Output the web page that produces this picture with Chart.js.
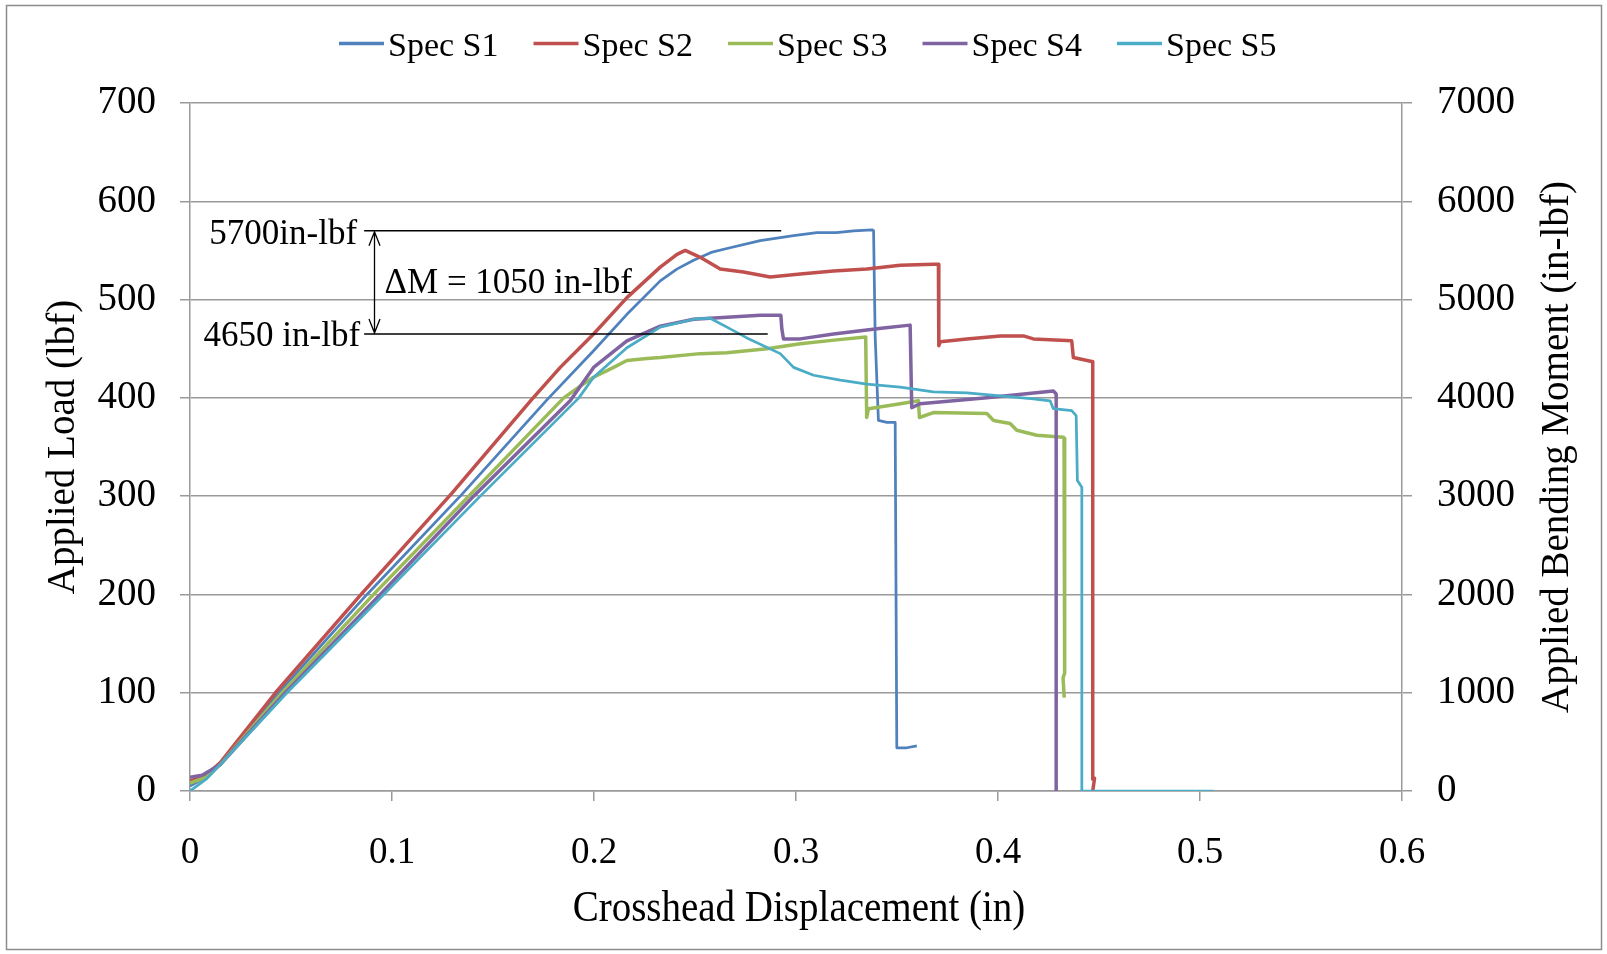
<!DOCTYPE html>
<html>
<head>
<meta charset="utf-8">
<script src="https://cdn.jsdelivr.net/npm/chart.js@4/dist/chart.umd.min.js"></script>
<style>
html,body{margin:0;padding:0;background:#fff;}
#wrap{position:relative;width:1607px;height:954px;}
</style>
</head>
<body>
<div id="wrap"><canvas id="c" width="1607" height="954"></canvas></div>
<script>
// ---------- data ----------
const seriesNames  = ['Spec S1', 'Spec S2', 'Spec S3', 'Spec S4', 'Spec S5'];
const seriesColors = ['#4F81BD', '#C0504D', '#9BBB59', '#8064A2', '#4BACC6'];

const s1Disp = [0, 0.008, 0.015, 0.0439, 0.0876, 0.1347, 0.1767, 0.1998, 0.2163, 0.2328, 0.2410, 0.2493, 0.2580, 0.2658, 0.2823, 0.2988, 0.3103, 0.3200, 0.3285, 0.3376, 0.3384, 0.3392, 0.3408, 0.3450, 0.3491, 0.3499, 0.3549, 0.3598];
const s1Load = [5, 14, 28, 100, 200, 302, 398, 448, 485, 519, 531, 540, 548, 552, 560, 565, 568, 568, 570, 571, 570, 462, 377, 375, 375, 44, 44, 46];

const s2Disp = [0, 0.008, 0.015, 0.0423, 0.0847, 0.1297, 0.1690, 0.1833, 0.1998, 0.2163, 0.2328, 0.2411, 0.2452, 0.2526, 0.2625, 0.2740, 0.2872, 0.3021, 0.3186, 0.3351, 0.3516, 0.3680, 0.3705, 0.3707, 0.3714, 0.3846, 0.4011, 0.4126, 0.4175, 0.4365, 0.4373, 0.4464, 0.4469, 0.4469, 0.4478, 0.4469];
const s2Load = [10, 16, 29, 100, 200, 303, 398, 431, 465, 502, 533, 546, 550, 543, 531, 528, 523, 526, 529, 531, 535, 536, 536, 453, 457, 460, 463, 463, 460, 458, 441, 437, 437, 12, 13, 0];

const s3Disp = [0, 0.008, 0.015, 0.0456, 0.0909, 0.1380, 0.1850, 0.1932, 0.1998, 0.2097, 0.2163, 0.2262, 0.2328, 0.2526, 0.2658, 0.2856, 0.3021, 0.3200, 0.3345, 0.3350, 0.3359, 0.3516, 0.3606, 0.3611, 0.3680, 0.3945, 0.3978, 0.4060, 0.4093, 0.4192, 0.4324, 0.4327, 0.4330, 0.4322, 0.4328];
const s3Load = [8, 14, 27, 100, 200, 300, 400, 412, 421, 431, 438, 440, 441, 445, 446, 450, 455, 459, 462, 380, 389, 394, 397, 380, 385, 384, 377, 374, 367, 362, 360, 359, 120, 115, 95];

const s4Disp = [0, 0.006, 0.015, 0.0472, 0.0942, 0.1404, 0.1882, 0.1998, 0.2163, 0.2328, 0.2493, 0.2658, 0.2823, 0.2925, 0.2930, 0.2938, 0.3021, 0.3186, 0.3433, 0.3565, 0.3573, 0.3614, 0.3945, 0.4274, 0.4288, 0.4288];
const s4Load = [14, 16, 27, 100, 200, 300, 397, 431, 458, 473, 480, 482, 484, 484, 470, 460, 460, 465, 471, 474, 390, 394, 400, 407, 404, 0];

const s5Disp = [0, 0.008, 0.015, 0.0480, 0.0959, 0.1437, 0.1925, 0.1998, 0.2163, 0.2328, 0.2493, 0.2575, 0.2658, 0.2757, 0.2922, 0.2988, 0.3087, 0.3219, 0.3351, 0.3516, 0.3680, 0.3846, 0.4011, 0.4175, 0.4258, 0.4274, 0.4365, 0.4387, 0.4393, 0.4415, 0.4415, 0.5066];
const s5Load = [0, 12, 27, 100, 200, 300, 400, 421, 451, 472, 480, 481, 472, 461, 445, 431, 423, 418, 414, 411, 406, 405, 402, 399, 397, 389, 387, 382, 316, 309, 0, 0];

const xTickLabels  = ['0', '0.1', '0.2', '0.3', '0.4', '0.5', '0.6'];
const yTickLabels  = ['0', '100', '200', '300', '400', '500', '600', '700'];
const y2TickLabels = ['0', '1000', '2000', '3000', '4000', '5000', '6000', '7000'];

// annotation (bending moment, in-lbf)
const annotMomentHigh = 5700;
const annotMomentLow  = 4650;
const annotLineStart  = 0.0862;
const annotHighEnd    = 0.2927;
const annotLowEnd     = 0.2860;
const annotArrowX     = 0.0912;
const annotHighText   = '5700in-lbf';
const annotLowText    = '4650 in-lbf';
const annotDeltaText  = '\u0394M = 1050 in-lbf';

// ---------- build ----------
const FONT = "'Liberation Serif', 'Times New Roman', serif";
Chart.defaults.font.family = FONT;
Chart.defaults.color = '#000';

const allDisp = [s1Disp, s2Disp, s3Disp, s4Disp, s5Disp];
const allLoad = [s1Load, s2Load, s3Load, s4Load, s5Load];
const lineWidths = [2.75, 3.5, 3.5, 3.5, 2.75];

const datasets = seriesNames.map((name, i) => ({
  label: name,
  data: allDisp[i].map((x, k) => ({ x: x, y: allLoad[i][k] })),
  borderColor: seriesColors[i],
  backgroundColor: seriesColors[i],
  borderWidth: lineWidths[i],
  borderJoinStyle: 'round',
  pointRadius: 0,
  tension: 0,
  fill: false,
  yAxisID: 'y',
  order: 6 - i
}));
datasets.push({
  label: '_hi', data: [{ x: annotLineStart, y: annotMomentHigh }, { x: annotHighEnd, y: annotMomentHigh }],
  borderColor: '#000', borderWidth: 1.5, pointRadius: 0, yAxisID: 'y2', order: 0
});
datasets.push({
  label: '_lo', data: [{ x: annotLineStart, y: annotMomentLow }, { x: annotLowEnd, y: annotMomentLow }],
  borderColor: '#000', borderWidth: 1.5, pointRadius: 0, yAxisID: 'y2', order: 0
});

const GRID = '#9a9a9a';

const framePlugin = {
  id: 'frame',
  beforeDraw(chart) {
    const ctx = chart.ctx;
    ctx.save();
    ctx.fillStyle = '#fff';
    ctx.fillRect(0, 0, chart.width, chart.height);
    ctx.strokeStyle = '#8c8c8c';
    ctx.lineWidth = 1.5;
    ctx.strokeRect(6.5, 5.5, 1595, 944);
    ctx.restore();
  }
};

const legendPlugin = {
  id: 'customLegend',
  afterDraw(chart) {
    const ctx = chart.ctx;
    ctx.save();
    ctx.font = '34px ' + FONT;
    ctx.textBaseline = 'alphabetic';
    ctx.textAlign = 'left';
    let x = 339;
    seriesNames.forEach((name, i) => {
      ctx.strokeStyle = seriesColors[i];
      ctx.lineWidth = 3.5;
      ctx.beginPath();
      ctx.moveTo(x, 43.5);
      ctx.lineTo(x + 45, 43.5);
      ctx.stroke();
      ctx.fillStyle = '#000';
      ctx.fillText(name, x + 49, 56);
      x += 45 + 4 + ctx.measureText(name).width + 35;
    });
    ctx.restore();
  }
};

const annotPlugin = {
  id: 'annot',
  afterDatasetsDraw(chart) {
    const ctx = chart.ctx;
    const xs = chart.scales.x, ys = chart.scales.y2;
    const yHi = ys.getPixelForValue(annotMomentHigh);
    const yLo = ys.getPixelForValue(annotMomentLow);
    const xStart = xs.getPixelForValue(annotLineStart);
    const xa = Math.round(xs.getPixelForValue(annotArrowX)) + 0.5;
    ctx.save();
    ctx.strokeStyle = '#000';
    ctx.lineWidth = 1.3;
    ctx.beginPath();
    ctx.moveTo(xa, yHi + 1);
    ctx.lineTo(xa, yLo - 1);
    ctx.moveTo(xa - 5.5, yHi + 15);
    ctx.lineTo(xa, yHi + 1);
    ctx.lineTo(xa + 5.5, yHi + 15);
    ctx.moveTo(xa - 5.5, yLo - 15);
    ctx.lineTo(xa, yLo - 1);
    ctx.lineTo(xa + 5.5, yLo - 15);
    ctx.stroke();

    ctx.fillStyle = '#000';
    ctx.font = '35px ' + FONT;
    ctx.textBaseline = 'middle';
    ctx.textAlign = 'right';
    ctx.fillText(annotHighText, xStart - 7, yHi + 4);
    ctx.fillText(annotLowText, xStart - 4, yLo + 3);
    ctx.textAlign = 'left';
    ctx.fillText(annotDeltaText, xa + 10, (yHi + yLo) / 2 + 1);
    ctx.restore();
  },
  afterDraw(chart) {
    const ctx = chart.ctx;
    const ca = chart.chartArea;
    // right axis title (reads bottom-to-top)
    ctx.save();
    ctx.translate(1558, (ca.top + ca.bottom) / 2);
    ctx.rotate(-Math.PI / 2);
    ctx.font = '39px ' + FONT;
    ctx.fillStyle = '#000';
    ctx.textAlign = 'center';
    ctx.textBaseline = 'middle';
    ctx.fillText('Applied Bending Moment (in-lbf)', 0, 0);
    ctx.restore();
    // x axis title (slightly tall lettering as in the reference)
    ctx.save();
    ctx.translate((ca.left + ca.right) / 2 + 3, 909);
    ctx.scale(1, 1.15);
    ctx.font = '39px ' + FONT;
    ctx.fillStyle = '#000';
    ctx.textAlign = 'center';
    ctx.textBaseline = 'middle';
    ctx.fillText('Crosshead Displacement (in)', 0, 0);
    ctx.restore();
  }
};

new Chart(document.getElementById('c'), {
  type: 'line',
  data: { datasets: datasets },
  plugins: [framePlugin, legendPlugin, annotPlugin],
  options: {
    responsive: false,
    maintainAspectRatio: false,
    devicePixelRatio: 1,
    animation: false,
    layout: { padding: { top: 103, left: 0, right: 0, bottom: 0 } },
    plugins: { legend: { display: false }, tooltip: { enabled: false } },
    scales: {
      x: {
        type: 'linear', position: 'bottom', min: 0, max: 0.6,
        afterFit(s) { s.height = 163; },
        ticks: {
          stepSize: 0.1, padding: 30, font: { size: 37 }, color: '#000',
          callback: (v, i) => xTickLabels[i]
        },
        grid: { drawOnChartArea: false, drawTicks: true, tickLength: 10, color: GRID, lineWidth: 1.5 },
        border: { display: true, color: GRID, width: 1.5 },
        title: { display: false }
      },
      y: {
        type: 'linear', position: 'left', min: 0, max: 700,
        afterFit(s) { s.width = 190; },
        ticks: {
          stepSize: 100, padding: 24, font: { size: 39 }, color: '#000',
          callback: (v, i) => yTickLabels[i]
        },
        grid: { drawOnChartArea: true, drawTicks: true, tickLength: 10, color: GRID, lineWidth: 1.5 },
        border: { display: true, color: GRID, width: 1.5 },
        title: { display: true, text: 'Applied Load (lbf)', font: { size: 39 }, color: '#000', padding: { top: 40, bottom: 0 } }
      },
      y2: {
        type: 'linear', position: 'right', min: 0, max: 7000,
        afterFit(s) { s.width = 205; },
        ticks: {
          stepSize: 1000, padding: 25, font: { size: 39 }, color: '#000',
          callback: (v, i) => y2TickLabels[i]
        },
        grid: { drawOnChartArea: false, drawTicks: true, tickLength: 10, color: GRID, lineWidth: 1.5 },
        border: { display: true, color: GRID, width: 1.5 },
        title: { display: false }
      }
    }
  }
});
</script>
</body>
</html>
